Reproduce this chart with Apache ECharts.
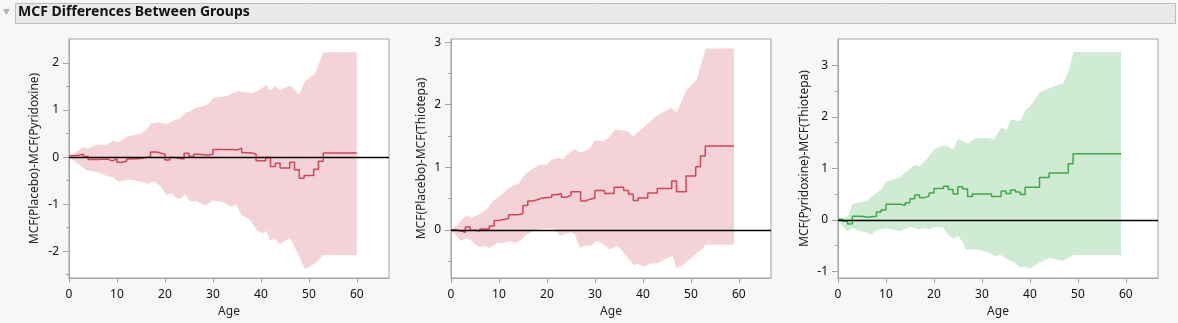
<!DOCTYPE html>
<html>
<head>
<meta charset="utf-8">
<script src="https://cdn.jsdelivr.net/npm/echarts@6/dist/echarts.min.js"></script>
<style>
  html, body { margin: 0; padding: 0; background: #f7f7f7; }
  #chart { width: 1178px; height: 323px; }
</style>
</head>
<body>
<div id="chart"></div>
<script>
// Difference of mean cumulative functions, with confidence band, per pair of groups

const xTicks = [0, 10, 20, 30, 40, 50, 60];

// Placebo - Pyridoxine
const pyrStepAge = [0,1,2,3,4,6,8,9,10,11,12,13,15,17,18,19,20,21,22,24,25,26,27,29,30,34,35,36,38,39,41,42,43,44,46,47,48,49,51,52,53,60];
const pyrStepVal = [0.03,0.04,0.06,0.01,-0.05,-0.04,-0.08,-0.04,-0.11,-0.09,-0.04,-0.03,0.01,0.11,0.09,0.06,-0.06,-0.01,-0.04,0.08,0.01,0.06,0.04,0.06,0.16,0.15,0.19,0.09,0.06,-0.08,-0.01,-0.20,-0.13,-0.23,-0.11,-0.27,-0.45,-0.39,-0.26,-0.09,0.085,0.085];
const pyrUpperAge = [0,2.9,4,5.7,7.8,9.2,10.2,12,13,14.8,16.1,17.2,18.9,20.3,21.4,23.1,24.2,25.2,26.2,28,29,30.1,32.9,35.3,36.3,38.1,39.8,41.2,41.9,42.9,44,46.1,48,49.2,51.3,53,60];
const pyrUpperVal = [0,0.21,0.18,0.26,0.26,0.35,0.31,0.43,0.46,0.49,0.58,0.72,0.74,0.70,0.76,0.82,0.95,0.97,1.04,1.08,1.13,1.26,1.30,1.41,1.38,1.36,1.43,1.54,1.41,1.52,1.42,1.52,1.33,1.61,1.77,2.23,2.23];
const pyrLowerAge = [0,1.2,2.6,3.6,5,6.4,7.8,9.2,10.2,12.7,14.8,16.5,17.5,18.9,20.3,21.4,22.4,23.1,24.2,25.2,26.6,28.3,29,30.1,32.1,33.9,34.9,35.9,37.7,39.1,40.2,41.2,41.9,42.9,44,46.1,49.2,51.3,53,60];
const pyrLowerVal = [0,-0.09,-0.20,-0.28,-0.30,-0.34,-0.40,-0.43,-0.52,-0.48,-0.52,-0.57,-0.52,-0.60,-0.80,-0.77,-0.87,-0.89,-0.80,-0.94,-0.94,-1.03,-0.99,-0.92,-0.96,-1.06,-1.01,-1.23,-1.33,-1.55,-1.62,-1.57,-1.78,-1.74,-1.84,-1.72,-2.38,-2.26,-2.08,-2.08];

// Placebo - Thiotepa
const thiStepAge = [0,1,2,3,4,5,6,8,9,10,11,12,14,15,16,17,18,19,21,22,23,24,25,27,28,29,30,32,34,36,37,38,39,41,43,46,47,49,51,52,53,59];
const thiStepVal = [0,-0.02,-0.04,0.045,-0.005,-0.02,0.015,0.06,0.15,0.165,0.18,0.24,0.26,0.39,0.46,0.48,0.51,0.52,0.56,0.58,0.52,0.55,0.61,0.46,0.49,0.51,0.63,0.58,0.68,0.63,0.57,0.47,0.51,0.59,0.66,0.78,0.61,0.86,1.01,1.18,1.34,1.34];
const thiUpperAge = [0,1.5,3.1,4.3,5.7,7.4,8.8,10.2,11.9,13,14.2,15.1,16.8,18.5,19.9,21,22.4,23.4,24.4,25.8,26.9,28.3,29,30,31.7,32.8,34.2,35.6,37,38,39,40.1,41.5,43.2,44.2,46,47,49.1,51.2,52.2,53.1,59];
const thiUpperVal = [0,0.09,0.23,0.19,0.245,0.32,0.46,0.54,0.66,0.71,0.74,0.86,0.97,1.04,1.04,1.12,1.15,1.13,1.22,1.29,1.23,1.27,1.31,1.43,1.41,1.47,1.60,1.59,1.57,1.49,1.57,1.63,1.73,1.84,1.88,1.95,1.87,2.23,2.40,2.66,2.90,2.90];
const thiLowerAge = [0,0.8,2.2,3.3,4.3,5.7,7.1,8.1,9.5,10.9,12.3,13.3,14.4,15.4,16.8,18.2,19.6,21.7,22.7,23.75,24.8,25.8,26.9,27.9,29.3,30.3,31.4,33.1,34.8,36.6,38.2,39,40.1,41.5,43.2,44.6,46.2,47,48.75,50.5,52.6,53,59];
const thiLowerVal = [0,-0.07,-0.18,-0.13,-0.18,-0.27,-0.26,-0.29,-0.21,-0.21,-0.18,-0.21,-0.18,-0.10,-0.03,0.005,0.02,0.02,-0.10,-0.07,-0.04,-0.07,-0.29,-0.25,-0.25,-0.18,-0.21,-0.31,-0.26,-0.42,-0.57,-0.54,-0.59,-0.54,-0.53,-0.47,-0.42,-0.62,-0.54,-0.42,-0.29,-0.24,-0.24];

// Pyridoxine - Thiotepa
const ptStepAge = [0,1,2,3,5,6,8,9,10,13,14,15,16,17,18,19,20,22,23,24,25,26,27,28,32,34,35,36,37,38,39,42,44,48,49,59];
const ptStepVal = [0.01,-0.03,-0.08,0.07,0.05,0.07,0.15,0.19,0.30,0.28,0.33,0.41,0.48,0.43,0.46,0.52,0.61,0.65,0.59,0.50,0.64,0.60,0.45,0.50,0.45,0.56,0.51,0.58,0.54,0.49,0.63,0.82,0.91,1.09,1.28,1.28];
const ptUpperAge = [0,1.4,2.1,3,3.8,4.9,6.25,7.6,9,10.1,11.5,12.8,14.2,16,17,18.4,20.1,21.9,22.9,24,25,26,27.1,28.5,30.6,32.6,34,35.1,36.1,38,39.2,40.3,42,44.1,46.9,48.1,49.1,59];
const ptUpperVal = [0,0.04,0.07,0.30,0.33,0.34,0.39,0.49,0.59,0.75,0.78,0.82,0.93,1.07,1.04,1.17,1.37,1.44,1.43,1.37,1.57,1.53,1.48,1.58,1.59,1.57,1.79,1.75,1.94,1.92,2.14,2.24,2.47,2.56,2.65,2.89,3.26,3.26];
const ptLowerAge = [0,0.9,1.9,3.1,4.5,5.9,6.9,8,9.7,11.5,12.8,14.2,15.3,16.7,17.7,19.1,20.1,21.9,22.9,24,25,25.9,26.7,28.1,30.2,31.6,32.6,33.8,35.4,36.8,38,38.9,39.9,41.3,44.1,46.9,49,59];
const ptLowerVal = [0,-0.11,-0.22,-0.16,-0.22,-0.24,-0.28,-0.21,-0.17,-0.19,-0.22,-0.17,-0.14,-0.19,-0.16,-0.19,-0.14,-0.15,-0.28,-0.37,-0.32,-0.41,-0.58,-0.57,-0.60,-0.64,-0.71,-0.68,-0.77,-0.83,-0.93,-0.90,-0.95,-0.87,-0.74,-0.80,-0.69,-0.69];

const panels = [
  { name: 'MCF(Placebo)-MCF(Pyridoxine)', left: 69, yMin: -2.57, yMax: 2.51,
    major: [-2, -1, 0, 1, 2], minor: [-2.5, -1.5, -0.5, 0.5, 1.5], nameGap: 28,
    stepAge: pyrStepAge, stepVal: pyrStepVal, upAge: pyrUpperAge, upVal: pyrUpperVal,
    loAge: pyrLowerAge, loVal: pyrLowerVal, line: '#d94356', band: '#f4d3d8' },
  { name: 'MCF(Placebo)-MCF(Thiotepa)', left: 451, yMin: -0.77, yMax: 3.05,
    major: [0, 1, 2, 3], minor: [-0.5, 0.5, 1.5, 2.5], nameGap: 23,
    stepAge: thiStepAge, stepVal: thiStepVal, upAge: thiUpperAge, upVal: thiUpperVal,
    loAge: thiLowerAge, loVal: thiLowerVal, line: '#d94356', band: '#f4d3d8' },
  { name: 'MCF(Pyridoxine)-MCF(Thiotepa)', left: 838, yMin: -1.13, yMax: 3.51,
    major: [-1, 0, 1, 2, 3], minor: [-0.5, 0.5, 1.5, 2.5], nameGap: 27,
    stepAge: ptStepAge, stepVal: ptStepVal, upAge: ptUpperAge, upVal: ptUpperVal,
    loAge: ptLowerAge, loVal: ptLowerVal, line: '#3eaa45', band: '#d0ebd3' }
];

const FONT = 'Noto Sans';
const AXIS_GRAY = '#a3a3a3';

const grid = [], xAxis = [], yAxis = [], series = [];

panels.forEach((p, i) => {
  grid.push({ left: p.left, top: 39, width: 320, height: 239, show: true,
    backgroundColor: '#ffffff', borderColor: AXIS_GRAY, borderWidth: 1 });

  xAxis.push({
    type: 'value', gridIndex: i, position: 'bottom', min: 0, max: 66.7,
    name: 'Age', nameLocation: 'middle', nameGap: 28,
    nameTextStyle: { fontFamily: FONT, fontSize: 12, color: '#222' },
    axisLine: { show: true, onZero: false, lineStyle: { color: AXIS_GRAY, width: 1 } },
    axisTick: { show: true, length: 5, customValues: xTicks, lineStyle: { color: AXIS_GRAY } },
    axisLabel: { customValues: xTicks, margin: 11, fontFamily: FONT, fontSize: 12, color: '#111' },
    splitLine: { show: false }
  });

  // labelled integer ticks
  yAxis.push({
    type: 'value', gridIndex: i, position: 'left', min: p.yMin, max: p.yMax,
    name: p.name, nameLocation: 'middle', nameGap: p.nameGap, nameRotate: 90,
    nameTextStyle: { fontFamily: FONT, fontSize: 12, color: '#222' },
    axisLine: { show: true, onZero: false, lineStyle: { color: AXIS_GRAY, width: 1 } },
    axisTick: { show: true, length: 6, customValues: p.major, lineStyle: { color: AXIS_GRAY } },
    axisLabel: { customValues: p.major, margin: 10, fontFamily: FONT, fontSize: 12, color: '#111' },
    splitLine: { show: false }
  });
  // short half-step ticks on the same left edge
  yAxis.push({
    type: 'value', gridIndex: i, position: 'left', offset: 0, min: p.yMin, max: p.yMax,
    axisLine: { show: false, onZero: false },
    axisTick: { show: true, length: 3, customValues: p.minor, lineStyle: { color: AXIS_GRAY } },
    axisLabel: { show: false },
    splitLine: { show: false }
  });

  const upPts = p.upAge.map((a, k) => [a, p.upVal[k]]);
  const loPts = p.loAge.map((a, k) => [a, p.loVal[k]]);

  // confidence band as one filled polygon
  series.push({
    type: 'custom', xAxisIndex: i, yAxisIndex: 2 * i, silent: true, z: 1,
    data: [[0, 0]],
    renderItem: (params, api) => {
      const pts = upPts.map(d => api.coord(d))
        .concat(loPts.slice().reverse().map(d => api.coord(d)));
      return { type: 'polygon', shape: { points: pts }, style: { fill: p.band } };
    }
  });

  // step difference line with zero reference
  series.push({
    type: 'line', xAxisIndex: i, yAxisIndex: 2 * i, step: 'end', z: 3,
    showSymbol: false, silent: true,
    data: p.stepAge.map((a, k) => [a, p.stepVal[k]]),
    lineStyle: { color: p.line, width: 1.5 },
    markLine: {
      silent: true, symbol: 'none', label: { show: false },
      lineStyle: { color: '#000', width: 1.3, type: 'solid' },
      data: [{ yAxis: 0 }]
    }
  });
});

const chart = echarts.init(document.getElementById('chart'), null, { renderer: 'canvas' });
chart.setOption({
  backgroundColor: '#f7f7f7',
  animation: false,
  grid, xAxis, yAxis, series,
  graphic: [
    { type: 'rect', left: 15, top: 3, shape: { width: 1160, height: 20 },
      style: { fill: '#e9e9e9', stroke: '#bdbdbd', lineWidth: 1 } },
    { type: 'polygon', shape: { points: [[3, 9], [10, 9], [6.5, 15]] },
      style: { fill: '#b5b5b5' } },
    { type: 'text', left: 18, top: 5,
      style: { text: 'MCF Differences Between Groups', font: 'bold 14px "Noto Sans"', fill: '#111' } }
  ]
});
</script>
</body>
</html>
